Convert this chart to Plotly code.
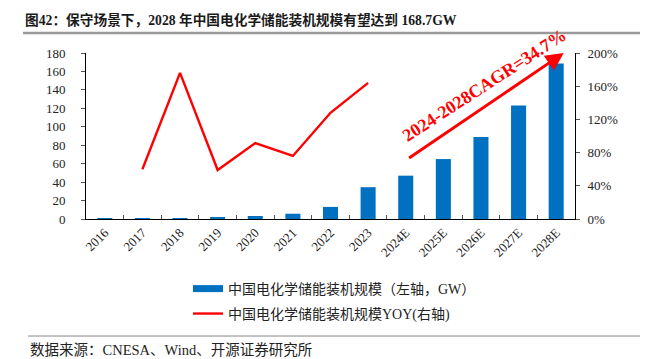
import plotly.graph_objects as go

years = ["2016", "2017", "2018", "2019", "2020", "2021", "2022", "2023",
         "2024E", "2025E", "2026E", "2027E", "2028E"]
capacity_gw = [0.24, 0.39, 1.07, 1.71, 3.28, 5.73, 13.1, 34.5, 47.0, 65.0, 89.0, 123.0, 168.7]
yoy_years = ["2017", "2018", "2019", "2020", "2021", "2022", "2023"]
yoy = [0.60, 1.76, 0.59, 0.915, 0.76, 1.28, 1.64]

bar_name = "中国电化学储能装机规模（左轴，GW）"
line_name = "中国电化学储能装机规模YOY(右轴)"
title_text = "图42：保守场景下，2028 年中国电化学储能装机规模有望达到 168.7GW"
source_text = "数据来源：CNESA、Wind、开源证券研究所"
cagr_text = "2024-2028CAGR=34.7%"

SERIF = "Liberation Serif, Noto Sans CJK SC"
BLUE = "#0070C0"
RED = "#FF0000"

fig = go.Figure()
fig.add_trace(go.Bar(x=years, y=capacity_gw, marker=dict(color=BLUE, line=dict(width=0)),
                     width=0.4, showlegend=False, yaxis="y"))
fig.add_trace(go.Scatter(x=[None], y=[None], mode="lines", name=bar_name,
                         line=dict(color=BLUE, width=7), legend="legend"))
fig.add_trace(go.Scatter(x=yoy_years, y=yoy, mode="lines", name=line_name,
                         line=dict(color=RED, width=2.4), yaxis="y2", legend="legend2"))

legend_common = dict(orientation="v", xanchor="left", yanchor="middle",
                     font=dict(size=14, family=SERIF, color="#222"), itemwidth=30,
                     bgcolor="rgba(0,0,0,0)")

fig.update_layout(
    width=648, height=359,
    margin=dict(l=78, r=81, t=45, b=148, autoexpand=False),
    paper_bgcolor="white", plot_bgcolor="white",
    font=dict(family=SERIF, size=13, color="#222"),
    xaxis=dict(type="category", categoryorder="array", categoryarray=years,
               range=[-0.5, 12.5], automargin=False,
               showline=True, linecolor="#000", linewidth=1,
               ticks="inside", tickson="boundaries", ticklen=4, tickcolor="#555",
               tickangle=-45, tickfont=dict(size=13, family=SERIF), showgrid=False),
    yaxis=dict(range=[0, 180], dtick=20, showline=True, linecolor="#000", linewidth=1,
               automargin=False,
               ticks="outside", ticklen=4, tickcolor="#555", showgrid=False, zeroline=False,
               tickfont=dict(size=13, family=SERIF), ticklabelstandoff=13),
    yaxis2=dict(range=[0, 2], dtick=0.4, tickformat=".0%", overlaying="y", side="right",
                automargin=False,
                showline=True, linecolor="#000", linewidth=1, ticks="outside", ticklen=4,
                tickcolor="#555", showgrid=False, zeroline=False,
                tickfont=dict(size=13, family=SERIF), ticklabelstandoff=5),
    legend=dict(x=0.2086, y=-0.4217, **legend_common),
    legend2=dict(x=0.2086, y=-0.572, **legend_common),
    showlegend=True,
    bargap=0.6,
)

# Title and rules
fig.add_annotation(text="<b>" + title_text + "</b>", xref="paper", yref="paper",
                   x=-0.1288, y=1.1205, xanchor="left", yanchor="bottom", yshift=3,
                   showarrow=False, font=dict(size=13.7, family=SERIF, color="#1a1a1a"))
fig.add_shape(type="line", xref="paper", yref="paper", x0=-0.1288, x1=1.15, y0=1.1205, y1=1.1205,
              line=dict(color="#999", width=2.5))
fig.add_annotation(text=source_text, xref="paper", yref="paper",
                   x=-0.1186, y=-0.789, xanchor="left", yanchor="middle",
                   showarrow=False, font=dict(size=14.5, family=SERIF, color="#222"))
fig.add_shape(type="line", xref="paper", yref="paper", x0=-0.1186, x1=1.15, y0=-0.705, y1=-0.705,
              line=dict(color="#888", width=1))

# CAGR arrow and label
fig.add_annotation(x=12.2, y=180, xref="x", yref="y", ax=8.05, ay=65, axref="x", ayref="y",
                   showarrow=True, arrowhead=2, arrowsize=1.2, arrowwidth=3, arrowcolor=RED,
                   text="")
fig.add_annotation(text="<b>" + cagr_text + "</b>", x=10.1, y=145, xref="x", yref="y",
                   showarrow=False, textangle=-33,
                   font=dict(size=18, family=SERIF, color=RED))

fig.write_html("out.html")
